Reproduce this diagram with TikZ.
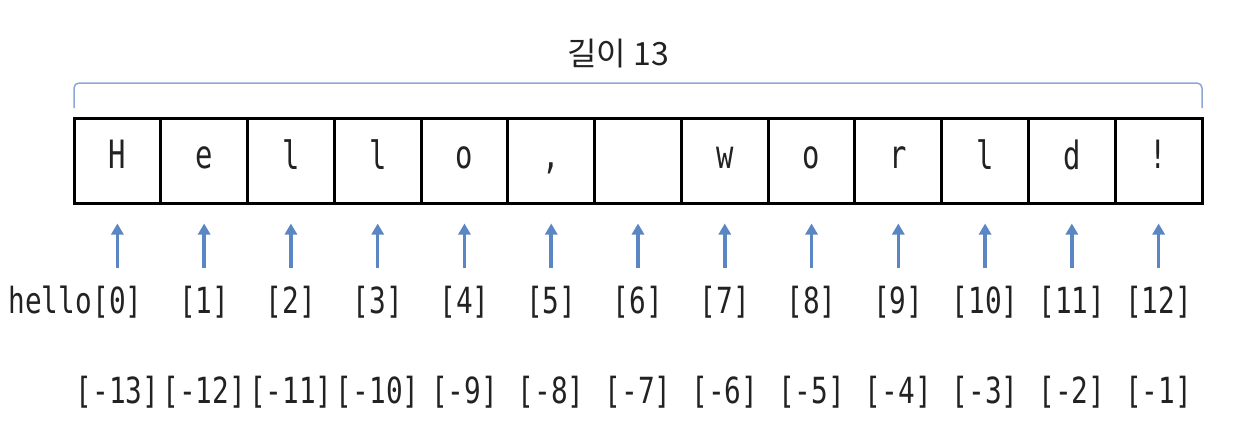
\documentclass[tikz,border=0pt]{standalone}
\usepackage{fontspec}
\usetikzlibrary{arrows.meta}
\newfontfamily\cellfont[FakeStretch=0.74]{DejaVu Sans Mono}
\newfontfamily\idxfont[FakeStretch=0.77]{DejaVu Sans Mono}
\newfontfamily\krfont{Noto Sans CJK KR}
\definecolor{arrblue}{HTML}{5A86C3}
\definecolor{brblue}{HTML}{8AA8D8}
\definecolor{txt}{HTML}{222222}
\tikzset{
  cellbox/.style={draw=black, line width=3pt, minimum width=86.77pt, minimum height=85pt, inner sep=0pt, font=\cellfont\fontsize{39}{41}\selectfont, text=txt},
  idx/.style={font=\idxfont\fontsize{36}{38}\selectfont, text=txt, inner sep=0pt},
  arr/.style={draw=arrblue, line width=3.5pt, -{Triangle[width=12pt,length=11pt]}, shorten >=19pt},
  bracketline/.style={draw=brblue, line width=1.5pt, rounded corners=5pt},
}
\begin{document}
\begin{tikzpicture}[x=1pt,y=-1pt]
\useasboundingbox[fill=white] (0,0) rectangle (1240,440);
% title
\node[font=\krfont\fontsize{32}{35}\selectfont, text=txt] (title) at (618,54) {길이 13};
% cells
\foreach \ch [count=\i from 0] in {H,e,l,l,o,{,},{},w,o,r,l,d,!} {
  \pgfmathsetmacro{\cx}{74+86.77*(\i+0.5)}
  \node[cellbox] (c\i) at (\cx,160.5) {\strut\ch};
}
% bracket
\coordinate (bl) at (74,108);
\coordinate (br) at (1202,108);
\draw[bracketline] (bl) -- (74,83) -- (1202,83) -- (br);
% positive indices
\foreach \i in {0,...,12} {
  \pgfmathsetmacro{\cx}{74+86.77*(\i+0.5)}
  \coordinate (t\i) at (\cx,268);
  \draw[arr] (t\i) -- (c\i.south);
  \node[idx] (p\i) at (\cx,302) {[\i]};
}
\node[idx, anchor=base east] (hello) at (p0.base west) {hello};
% negative indices
\foreach \i [evaluate=\i as \n using int(\i-13)] in {0,...,12} {
  \pgfmathsetmacro{\cx}{74+86.77*(\i+0.5)}
  \node[idx] (n\i) at (\cx,392) {[\n]};
}
\end{tikzpicture}
\end{document}
